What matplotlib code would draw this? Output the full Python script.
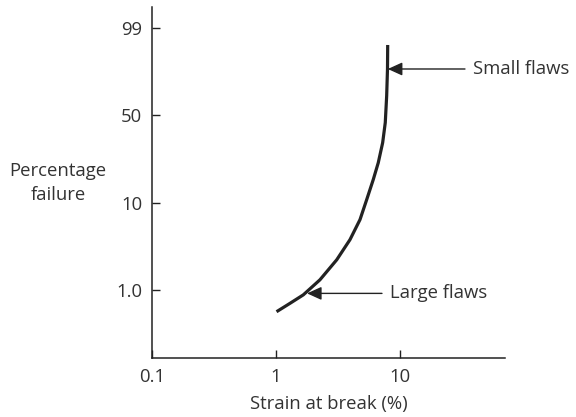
import matplotlib
matplotlib.use("Agg")
import matplotlib.pyplot as plt

# Curve data: strain at break (%) vs position on percentage-failure axis
strain = [1.01, 1.30, 1.66, 2.26, 3.09, 3.95, 4.76, 5.39, 6.09, 6.68,
          7.25, 7.61, 7.81, 7.93, 7.96]
fail_pos = [-0.25, -0.153, -0.057, 0.115, 0.345, 0.575, 0.805, 1.034, 1.264,
            1.456, 1.686, 1.916, 2.222, 2.529, 2.805]

y_tick_pos = [0, 1, 2, 3]
y_tick_labels = ["1.0", "10", "50", "99"]
x_ticks = [0.1, 1, 10]
x_tick_labels = ["0.1", "1", "10"]

plt.rcParams['font.family'] = ['Open Sans', 'DejaVu Sans']
col = "#222222"
tcol = "#333333"
fs = 13.3

fig = plt.figure(figsize=(5.76, 4.17), dpi=100)
ax = fig.add_axes([152/576, 1 - 358/417, (505-152)/576, (358-7)/417])
ax.plot(strain, fail_pos, color=col, lw=2.3, solid_capstyle='butt',
        solid_joinstyle='round')
ax.set_xscale('log')
ax.set_xlim(0.1, 10**1.847)
ax.set_ylim(-0.78, 3.24)
ax.set_xticks(x_ticks)
ax.set_xticklabels(x_tick_labels)
ax.xaxis.set_minor_locator(matplotlib.ticker.NullLocator())
ax.set_yticks(y_tick_pos)
ax.set_yticklabels(y_tick_labels)
for s in ['top', 'right']:
    ax.spines[s].set_visible(False)
for s in ['left', 'bottom']:
    ax.spines[s].set_color(col)
    ax.spines[s].set_linewidth(1.1)
ax.tick_params(direction='in', length=5.5, width=1, color=col, labelcolor=tcol,
               labelsize=fs)
ax.tick_params(axis='y', pad=7)
ax.tick_params(axis='x', pad=7)

ax.set_xlabel("Strain at break (%)", fontsize=fs, color=tcol, labelpad=7)
fig.text(58/576, 1 - 183/417, "Percentage\nfailure", ha='center', va='center',
         fontsize=fs, color=tcol, linespacing=1.45)

arrow_style = dict(arrowstyle='-|>,head_length=0.55,head_width=0.25', color=col,
                   lw=1.0, shrinkA=0, shrinkB=0, mutation_scale=16)

# annotations
ax.annotate("", xy=(7.98, 2.53), xytext=(10**((465-152)/124 - 1), 2.53),
            arrowprops=arrow_style)
ax.text(10**((473-152)/124 - 1), 2.53, "Small flaws", ha='left', va='center',
        fontsize=fs, color=tcol)
ax.annotate("", xy=(1.78, -0.04), xytext=(10**((382-152)/124 - 1), -0.04),
            arrowprops=arrow_style)
ax.text(10**((390-152)/124 - 1), -0.04, "Large flaws", ha='left', va='center',
        fontsize=fs, color=tcol)

fig.savefig("out.png", dpi=100)
